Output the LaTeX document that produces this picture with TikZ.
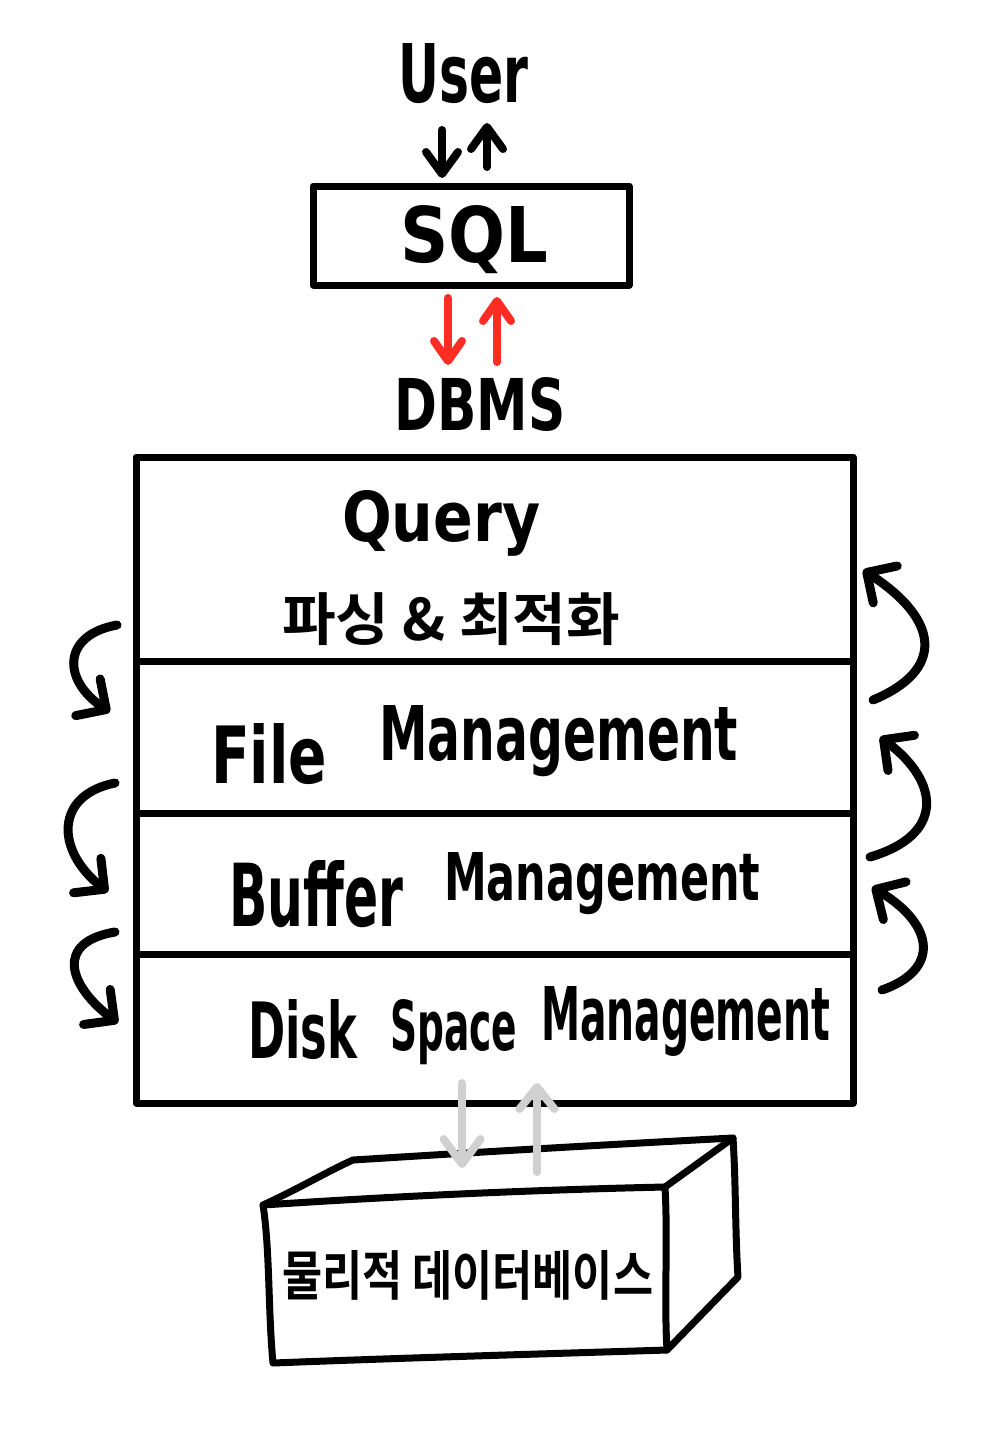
\documentclass[tikz,border=0pt]{standalone}
\usepackage{fontspec}
\usepackage{graphicx}
\setmainfont{DejaVu Sans}
\newfontfamily\kr{Noto Sans CJK KR}[BoldFont={Noto Sans CJK KR Bold}]
\usetikzlibrary{arrows.meta}
\definecolor{penred}{RGB}{255,45,35}
\definecolor{pengray}{RGB}{208,208,208}
\newcommand\fitto[3]{\resizebox{#1pt}{#2pt}{#3}}
\begin{document}
\begin{tikzpicture}[x=1pt,y=-1pt,
  pen/.style={line width=7pt, line cap=round, line join=round},
  box/.style={draw, line width=7pt, line join=round, rectangle, inner sep=0pt, outer sep=0pt, anchor=north west},
  layer/.style={box, minimum width=717pt},
  hand/.style={inner sep=0pt, anchor=base west, font=\bfseries},
  updown/.style={line width=8pt, line cap=round, -{Straight Barb[round,length=22pt,width=32pt]}},
  flow/.style={line width=9pt, line cap=round, -{Straight Barb[round,length=22pt,width=44pt]}},
]
\useasboundingbox (0,0) rectangle (1000,1441);

% ---- top part
\node[hand] (user) at (398,102) {\fitto{130}{59}{User}};
\node[box, minimum width=316pt, minimum height=99pt] (sql) at (313,186) {};
\node[hand] (sqltext) at (400,262) {\fitto{148}{57}{SQL}};
\node[hand] (dbms) at (394,430) {\fitto{171}{53}{DBMS}};

\coordinate (ua) at (442,130); \coordinate (ub) at (442,178);
\coordinate (uc) at (487,167); \coordinate (ud) at (487,123);
\draw[updown] (ua) -- (ub);
\draw[updown] (uc) -- (ud);

\coordinate (ra) at (448,298); \coordinate (rb) at (448,365);
\coordinate (rc) at (497,362); \coordinate (rd) at (497,297);
\draw[updown, penred, -{Straight Barb[round,length=20pt,width=28pt]}] (ra) -- (rb);
\draw[updown, penred, -{Straight Barb[round,length=20pt,width=28pt]}] (rc) -- (rd);

% ---- DBMS layers
\node[layer, minimum height=204pt] (qlayer) at (136,457) {};
\node[layer, minimum height=152pt] (flayer) at (136,661) {};
\node[layer, minimum height=141pt] (blayer) at (136,813) {};
\node[layer, minimum height=149pt] (dlayer) at (136,954) {};

\node[hand] (query) at (342,541) {\fitto{198}{51}{Query}};
\node[hand] (parse) at (282,640) {\fitto{338}{48}{\kr 파싱 \& 최적화}};
\node[hand] (file) at (211,783) {\fitto{116}{60}{File}};
\node[hand] (fileM) at (379,760) {\fitto{359}{55}{Management}};
\node[hand] (buf) at (229,926) {\fitto{174}{66}{Buffer}};
\node[hand] (bufM) at (444,900) {\fitto{316}{48}{Management}};
\node[hand] (disk) at (248,1058) {\fitto{109}{59}{Disk}};
\node[hand] (space) at (390,1050) {\fitto{127}{51}{Space}};
\node[hand] (diskM) at (541,1040) {\fitto{289}{54}{Management}};

% ---- left flow arrows (downwards)
\coordinate (l1a) at (117,625); \coordinate (l1b) at (110,712);
\coordinate (l2a) at (115,783); \coordinate (l2b) at (108,892);
\coordinate (l3a) at (115,932); \coordinate (l3b) at (118,1023);
\draw[flow] (l1a) .. controls (62,635) and (62,680) .. (l1b);
\draw[flow] (l2a) .. controls (55,795) and (55,850) .. (l2b);
\draw[flow] (l3a) .. controls (55,942) and (68,985) .. (l3b);

% ---- right flow arrows (upwards)
\coordinate (r1a) at (873,700); \coordinate (r1b) at (863,570);
\coordinate (r2a) at (870,857); \coordinate (r2b) at (880,737);
\coordinate (r3a) at (882,990); \coordinate (r3b) at (872,887);
\draw[flow] (r1a) .. controls (945,670) and (940,620) .. (r1b);
\draw[flow] (r2a) .. controls (945,835) and (940,782) .. (r2b);
\draw[flow] (r3a) .. controls (940,970) and (935,925) .. (r3b);

% ---- physical database block
\draw[pen] (263,1205) .. controls (300,1188) and (330,1170) .. (353,1160)
  .. controls (480,1152) and (600,1145) .. (733,1138)
  .. controls (736,1185) and (735,1230) .. (738,1277) -- (667,1350);
\draw[pen] (263,1205) .. controls (400,1196) and (530,1190) .. (665,1187)
  .. controls (668,1240) and (664,1300) .. (667,1350)
  .. controls (540,1354) and (400,1358) .. (273,1363)
  .. controls (268,1310) and (270,1250) .. cycle;
\draw[pen] (665,1187) -- (733,1138);
\node[hand] (phys) at (282,1295) {\fitto{371}{45}{\kr 물리적 데이터베이스}};

% ---- disk I/O arrows
\coordinate (ga) at (462,1083); \coordinate (gb) at (462,1168);
\coordinate (gc) at (537,1172); \coordinate (gd) at (537,1083);
\draw[updown, pengray, -{Straight Barb[round,length=25pt,width=37pt]}] (ga) -- (gb);
\draw[updown, pengray, -{Straight Barb[round,length=22pt,width=35pt]}] (gc) -- (gd);
\end{tikzpicture}
\end{document}
